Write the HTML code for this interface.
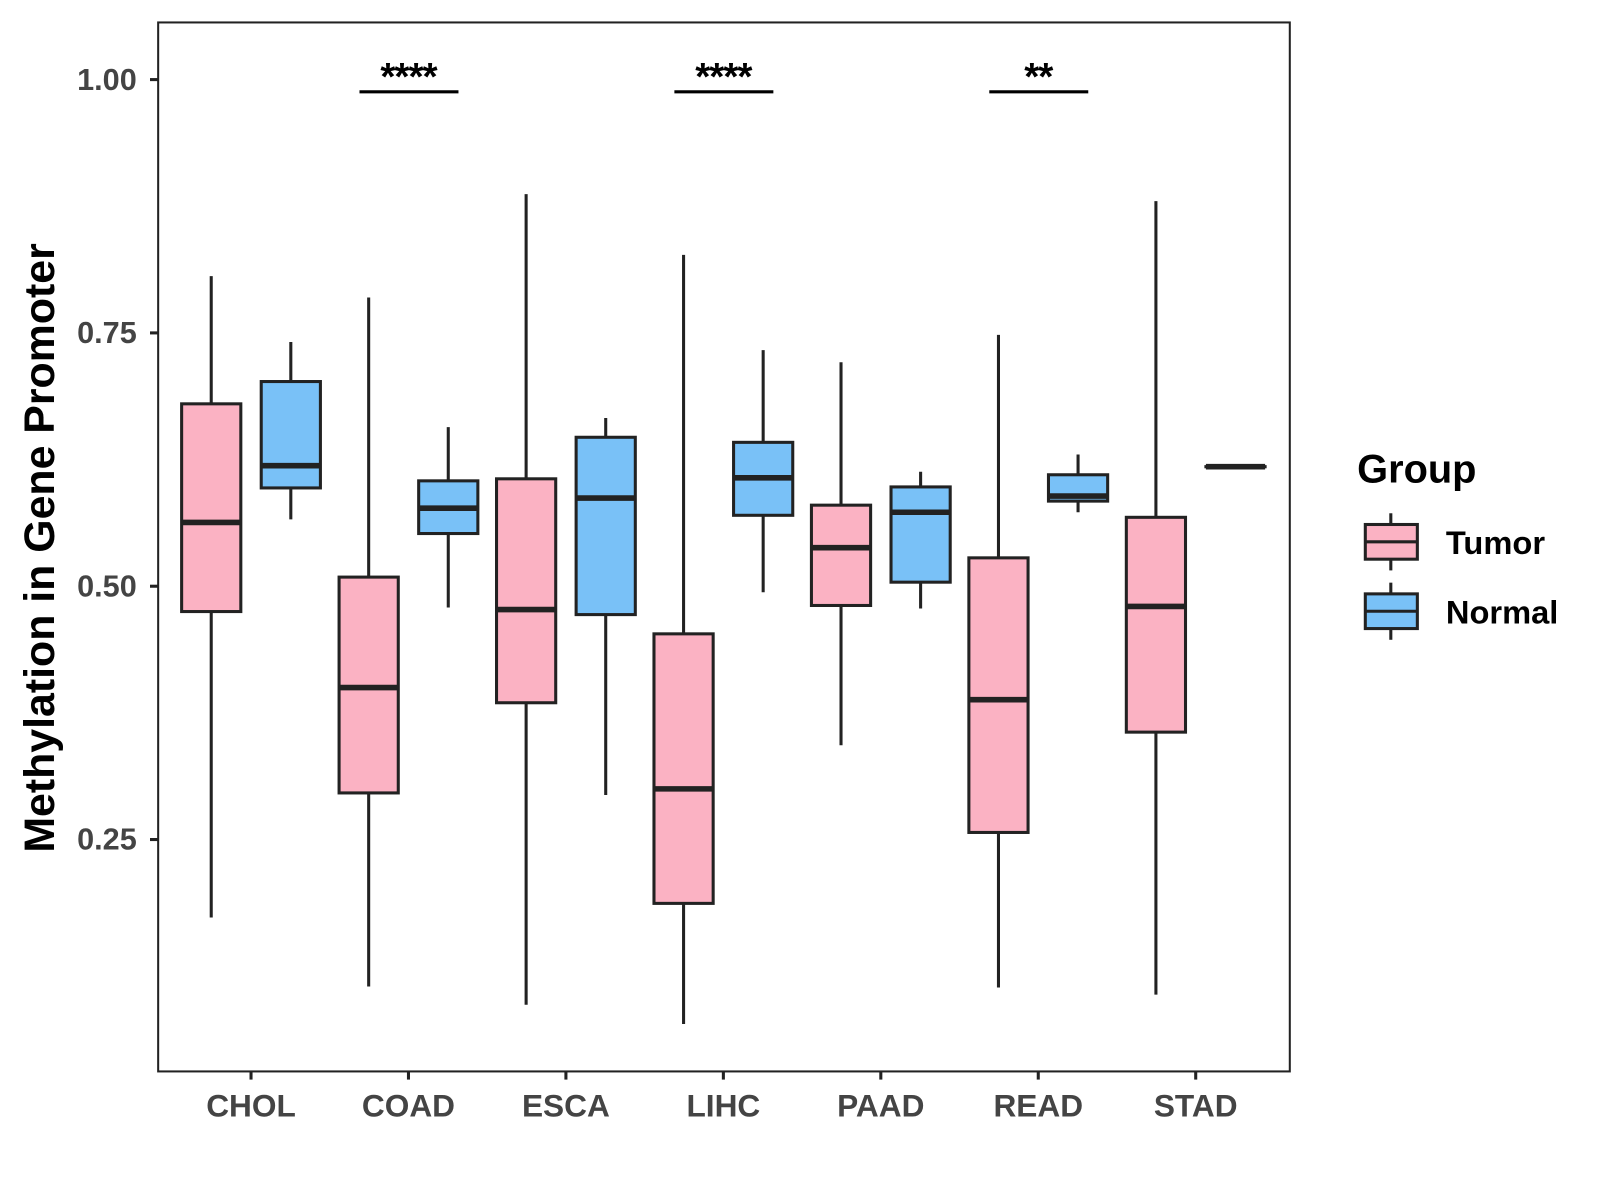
<!DOCTYPE html>
<html><head><meta charset="utf-8"><style>
html,body{margin:0;padding:0;background:#fff;}
svg{display:block;font-family:"Liberation Sans",Arial,sans-serif;}
</style></head><body>
<svg id="chart" width="1600" height="1200" viewBox="0 0 1568 1176" xmlns="http://www.w3.org/2000/svg">
<rect x="0" y="0" width="1568" height="1176" fill="#fff"/>
<rect x="155" y="22" width="1109" height="1028" fill="none" stroke="#222" stroke-width="2"/>
<g id="yaxis"></g>
<g id="xaxis"></g>
<g id="boxes"></g>
<g id="sig"></g>
<text transform="translate(53,537) rotate(-90)" text-anchor="middle" font-size="42" font-weight="bold" fill="#000">Methylation in Gene Promoter</text>
<g>
<text x="1330" y="473" font-size="39" font-weight="bold" fill="#000">Group</text>
<g>
<line x1="1363" y1="503" x2="1363" y2="559" stroke="#222" stroke-width="3"/>
<rect x="1338" y="514" width="51" height="34" fill="#FBB2C3" stroke="#222" stroke-width="3"/>
<line x1="1338" y1="531" x2="1389" y2="531" stroke="#222" stroke-width="3"/>
<text x="1417" y="543" font-size="32" font-weight="bold" fill="#000">Tumor</text>
</g>
<g>
<line x1="1363" y1="571" x2="1363" y2="627" stroke="#222" stroke-width="3"/>
<rect x="1338" y="582" width="51" height="34" fill="#79C1F7" stroke="#222" stroke-width="3"/>
<line x1="1338" y1="599" x2="1389" y2="599" stroke="#222" stroke-width="3"/>
<text x="1417" y="611" font-size="32" font-weight="bold" fill="#000">Normal</text>
</g>
</g>
</svg>
<script>
const categories = ["CHOL","COAD","ESCA","LIHC","PAAD","READ","STAD"];
// [whiskerHigh, q3, median, q1, whiskerLow]
const tumorStats = [
 [0.806,0.680,0.563,0.475,0.173],
 [0.785,0.509,0.400,0.296,0.105],
 [0.887,0.606,0.477,0.385,0.087],
 [0.827,0.453,0.300,0.187,0.068],
 [0.721,0.580,0.538,0.481,0.343],
 [0.748,0.528,0.388,0.257,0.104],
 [0.880,0.568,0.480,0.356,0.097]
];
const normalStats = [
 [0.741,0.702,0.619,0.597,0.566],
 [0.657,0.604,0.577,0.552,0.479],
 [0.666,0.647,0.587,0.472,0.294],
 [0.733,0.642,0.607,0.570,0.494],
 [0.613,0.598,0.573,0.504,0.478],
 [0.630,0.610,0.589,0.584,0.573],
 [0.618,0.618,0.618,0.618,0.618]
];
const yTicks = [0.25,0.50,0.75,1.00];
const yTickLabels = ["0.25","0.50","0.75","1.00"];
const sigCategories = ["COAD","LIHC","READ"];
const sigLabels = ["****","****","**"];

const NS="http://www.w3.org/2000/svg";
const y = v => 78 + (1 - v) * 993;
const x = i => 246 + i * 154.3;
function mk(tag, attrs, parent){const e=document.createElementNS(NS,tag);for(const k in attrs)e.setAttribute(k,attrs[k]);parent.appendChild(e);return e;}

const ya=document.getElementById('yaxis');
yTicks.forEach((t,i)=>{
  const l=mk('line',{x1:147,x2:155,y1:y(t),y2:y(t),stroke:'#222','stroke-width':3},ya);
  
  
  const tx=mk('text',{x:134,y:y(t)+10,'text-anchor':'end','font-size':30,'font-weight':'bold',fill:'#444'},ya);
  tx.textContent=yTickLabels[i];
  
  
});
const xa=document.getElementById('xaxis');
categories.forEach((c,i)=>{
  const l=mk('line',{x1:x(i),x2:x(i),y1:1050,y2:1058,stroke:'#222','stroke-width':3},xa);
  
  
  const tx=mk('text',{x:x(i),y:1094,'text-anchor':'middle','font-size':31,'font-weight':'bold',fill:'#444'},xa);
  tx.textContent=c;
  
  
});
const bx=document.getElementById('boxes');
function drawBox(s,cx,fill,name){
  const g=mk('g',{},bx);
  
  
  const hw=29;
  mk('line',{x1:cx,x2:cx,y1:y(s[0]),y2:y(s[4]),stroke:'#222','stroke-width':3},g);
  mk('rect',{x:cx-hw,y:y(s[1]),width:hw*2,height:Math.max(y(s[3])-y(s[1]),0.1),fill:fill,stroke:'#222','stroke-width':3},g);
  mk('line',{x1:cx-hw,x2:cx+hw,y1:y(s[2]),y2:y(s[2]),stroke:'#222','stroke-width':5.5},g);
}
categories.forEach((c,i)=>{
  drawBox(tumorStats[i],x(i)-39,'#FBB2C3','box-tumor-'+c.toLowerCase());
  drawBox(normalStats[i],x(i)+39,'#79C1F7','box-normal-'+c.toLowerCase());
});
const sg=document.getElementById('sig');
sigCategories.forEach((c,k)=>{
  const i=categories.indexOf(c);
  const l=mk('line',{x1:x(i)-48,x2:x(i)+49,y1:90,y2:90,stroke:'#000','stroke-width':3},sg);
  
  
  const t=mk('text',{x:x(i),y:88,'text-anchor':'middle','font-size':38,'font-weight':'bold',fill:'#000','letter-spacing':'-1'},sg);
  t.textContent=sigLabels[k];
  
  
});
</script>
</body></html>
